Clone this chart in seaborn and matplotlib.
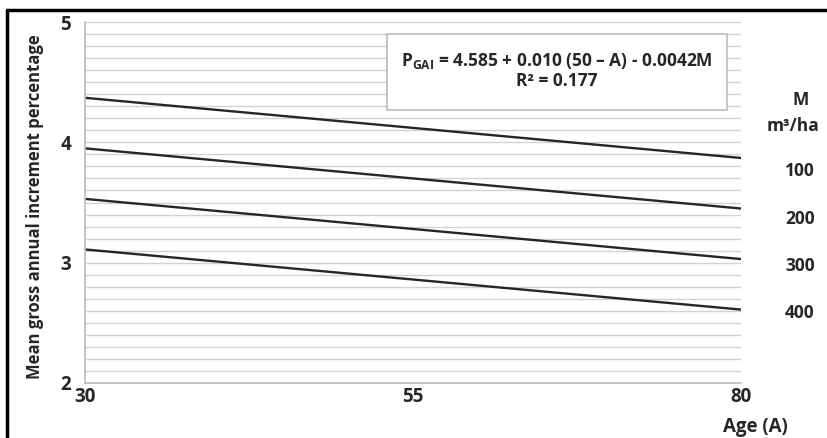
import matplotlib
matplotlib.use('Agg')
import matplotlib.pyplot as plt
from matplotlib.lines import Line2D
from matplotlib.patches import Rectangle
import numpy as np
import pandas as pd
import seaborn as sns

# values (straight lines, two ends each)
ages = [30, 80]
stock_levels = [100, 200, 300, 400]
pct_m100 = [4.37, 3.87]
pct_m200 = [3.95, 3.45]
pct_m300 = [3.53, 3.03]
pct_m400 = [3.11, 2.61]
x_ticks = [30, 55, 80]
y_ticks = [2, 3, 4, 5]
equation = 'P$_{\\rm GAI}$ = 4.585 + 0.010 (50 – A) - 0.0042M'
r_squared = 'R² = 0.177'

df = pd.DataFrame({
    'age': ages * len(stock_levels),
    'pct': pct_m100 + pct_m200 + pct_m300 + pct_m400,
    'M': np.repeat(stock_levels, len(ages)),
})

sns.set_style('white')
plt.rcParams['font.family'] = ['Open Sans', 'DejaVu Sans']
plt.rcParams['font.weight'] = 'bold'
plt.rcParams['mathtext.fontset'] = 'custom'
plt.rcParams['mathtext.rm'] = 'Open Sans:bold'

W, H = 828, 438


def fx(px):
    return px / W


def fy(py):
    return 1 - py / H


fig = plt.figure(figsize=(W / 100, H / 100), dpi=100)
ax = fig.add_axes([fx(85), fy(383), fx(741 - 85), (383 - 22) / H])

sns.lineplot(data=df, x='age', y='pct', hue='M', palette=['#262626'] * 4,
             legend=False, ax=ax, linewidth=1.7)

ax.set_xlim(30, 80)
ax.set_ylim(2, 5)
ax.set_xticks(x_ticks)
ax.set_yticks(y_ticks)
ax.set_yticks(np.arange(2, 5.001, 0.1), minor=True)
ax.grid(which='both', axis='y', color='#d2d2d2', linewidth=1)
ax.set_axisbelow(True)
ax.set_xlabel('')
ax.set_ylabel('')

for side in ['top', 'right']:
    ax.spines[side].set_visible(False)
for side in ['left', 'bottom']:
    ax.spines[side].set_color('#bdbdbd')
    ax.spines[side].set_linewidth(1.2)

ax.tick_params(axis='y', which='major', length=6, color='#bdbdbd', labelsize=13.5, pad=4)
ax.tick_params(axis='y', which='minor', length=0)
ax.tick_params(axis='x', length=0, labelsize=13.5, pad=3)
for lbl in ax.get_xticklabels() + ax.get_yticklabels():
    lbl.set_fontweight('bold')

fig.text(fx(35), fy(207), 'Mean gross annual increment percentage', rotation=90,
         ha='center', va='center', fontsize=12, fontweight='bold')

# equation box
fig.add_artist(Rectangle((fx(387), fy(110)), fx(727 - 387), (110 - 34) / H,
                         transform=fig.transFigure, facecolor='white',
                         edgecolor='#bdbdbd', linewidth=1.2, zorder=5))
fig.text(fx(557), fy(61), equation, ha='center', va='center',
         fontsize=12.5, fontweight='bold', zorder=6)
fig.text(fx(557), fy(81), r_squared, ha='center', va='center',
         fontsize=12.5, fontweight='bold', zorder=6)

# right-hand M labels
fig.text(fx(801), fy(100), 'M', ha='center', va='center', fontsize=12.5, fontweight='bold')
fig.text(fx(793), fy(126), 'm³/ha', ha='center', va='center', fontsize=12.5, fontweight='bold')
for m, py in zip(stock_levels, [171, 219, 266, 313]):
    fig.text(fx(800), fy(py), str(m), ha='center', va='center', fontsize=12.5, fontweight='bold')

fig.text(fx(755), fy(427), 'Age (A)', ha='center', va='center', fontsize=13.5, fontweight='bold')

# outer frame (top and left edges only visible)
fig.add_artist(Line2D([fx(7), 1], [fy(10), fy(10)], transform=fig.transFigure,
                      color='black', linewidth=2.5))
fig.add_artist(Line2D([fx(7), fx(7)], [0, fy(10)], transform=fig.transFigure,
                      color='black', linewidth=2.5))

fig.savefig('out.png', dpi=100)
plt.close(fig)
